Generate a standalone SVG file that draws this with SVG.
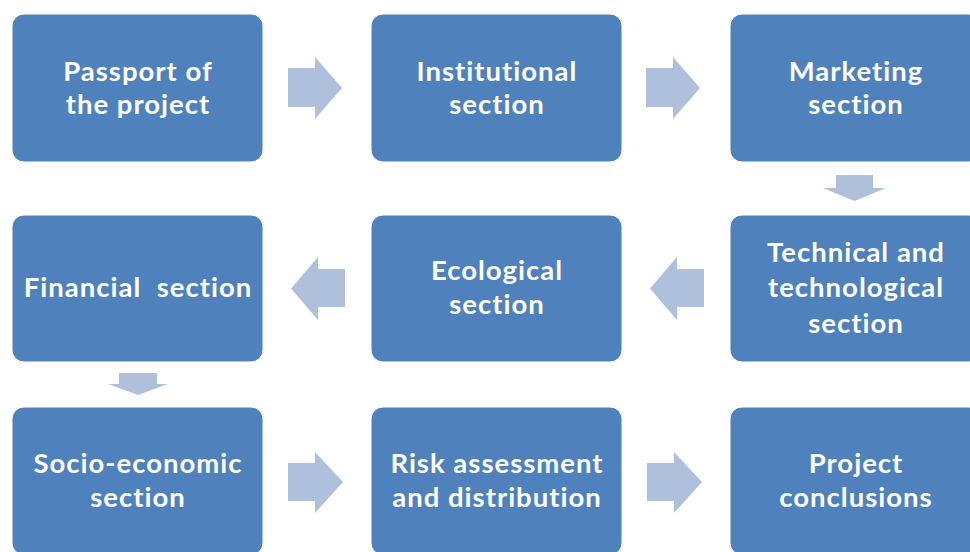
<svg xmlns="http://www.w3.org/2000/svg" width="970" height="552" viewBox="0 0 970 552">
<style>
.box{fill:#4F81BD;stroke:#ffffff;stroke-width:1}
.arr{fill:#AFC0DD}
.t{font-family:Lato,"Open Sans","Liberation Sans",sans-serif;font-weight:bold;font-size:27.5px;letter-spacing:1px;fill:#ffffff;text-anchor:middle;white-space:pre}
</style>
<rect width="970" height="552" fill="#ffffff"/>
<g id="connectors">
<path class="arr" d="M288,68 H315 V57 L342,88 L315,119 V107 H288 Z"/>
<path class="arr" d="M646,68 H673 V57 L700,88 L673,119 V107 H646 Z"/>
<path class="arr" d="M836,175 H873 V188 H886 L854.5,201 L823,188 H836 Z"/>
<path class="arr" d="M704,269 H677 V257 L650,288.5 L677,320 V307 H704 Z"/>
<path class="arr" d="M345,269 H318 V257 L291,288.5 L318,320 V307 H345 Z"/>
<path class="arr" d="M119,373 H157 V384 H168 L138,395 L108,384 H119 Z"/>
<path class="arr" d="M288,463 H315 V452 L343,482 L315,513 V501 H288 Z"/>
<path class="arr" d="M647,463 H674 V452 L702,482 L674,513 V501 H647 Z"/>
</g>
<g id="n1"><rect class="box" x="12" y="14" width="251" height="148" rx="12"/><text class="t" x="138" y="81">Passport of</text><text class="t" x="138" y="114">the project</text></g>
<g id="n2"><rect class="box" x="371" y="14" width="251" height="148" rx="12"/><text class="t" x="497" y="81">Institutional</text><text class="t" x="497" y="114">section</text></g>
<g id="n3"><rect class="box" x="730" y="14" width="251" height="148" rx="12"/><text class="t" x="856" y="81">Marketing</text><text class="t" x="856" y="114">section</text></g>
<g id="n4"><rect class="box" x="730" y="215" width="251" height="147" rx="12"/><text class="t" x="856" y="262">Technical and</text><text class="t" x="856" y="297">technological</text><text class="t" x="856" y="333">section</text></g>
<g id="n5"><rect class="box" x="371" y="215" width="251" height="147" rx="12"/><text class="t" x="497" y="280">Ecological</text><text class="t" x="497" y="314">section</text></g>
<g id="n6"><rect class="box" x="12" y="215" width="251" height="147" rx="12"/><text class="t" x="138" y="297" xml:space="preserve">Financial  section</text></g>
<g id="n7"><rect class="box" x="12" y="407" width="251" height="148" rx="12"/><text class="t" x="138" y="473">Socio-economic</text><text class="t" x="138" y="507">section</text></g>
<g id="n8"><rect class="box" x="371" y="407" width="251" height="148" rx="12"/><text class="t" x="497" y="473">Risk assessment</text><text class="t" x="497" y="507">and distribution</text></g>
<g id="n9"><rect class="box" x="730" y="407" width="251" height="148" rx="12"/><text class="t" x="856" y="473">Project</text><text class="t" x="856" y="507">conclusions</text></g>
</svg>
